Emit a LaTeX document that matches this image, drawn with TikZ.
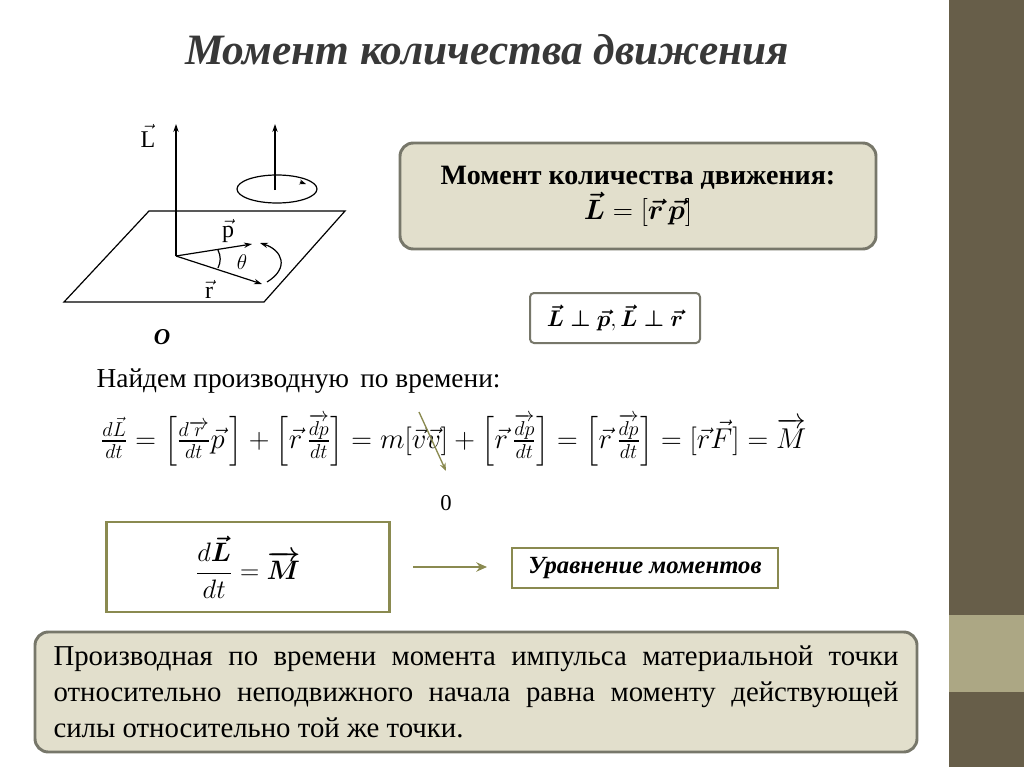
\documentclass[tikz,border=0pt]{standalone}
\usepackage{fix-cm}
\usepackage{amsmath,bm}
\usepackage{fontspec}
\setmainfont{Liberation Serif}
\usetikzlibrary{arrows.meta}
\definecolor{olive}{HTML}{8A8A50}
\definecolor{bandd}{HTML}{675E49}
\definecolor{bandl}{HTML}{ACA784}
\definecolor{boxfill}{HTML}{E2DFCC}
\definecolor{boxline}{HTML}{77776A}
\tikzset{
  roundbox/.style={draw=boxline,line width=2.2pt,rounded corners=10pt,fill=boxfill},
  olivebox/.style={draw=olive,line width=2.2pt,fill=white},
  thin/.style={line width=0.9pt},
  vec/.style={thin,-{Stealth[length=6pt,width=4pt]}},
}
\begin{document}
\begin{tikzpicture}[x=0.75pt,y=-0.75pt]
\useasboundingbox (0,0) rectangle (1024,767);
\fill[white] (0,0) rectangle (1024,767);
\fill[bandd] (949,0) rectangle (1024,767);
\fill[bandl] (949,615) rectangle (1024,692);
% title
\node[font=\fontsize{32.5}{36}\selectfont\bfseries\itshape,text=black!78] (title) at (487,50) {Момент количества движения};
% diagram
\coordinate (O) at (176,256);
\draw[thin] (64,302) -- (149,211) -- (345,211) -- (264,302) -- cycle;
\draw[vec] (O) -- (176,124) coordinate (Ltop);
\node[font=\fontsize{18}{18}\selectfont] (Llab) at (148,136) {$\vec{\mathrm{L}}$};
\draw[vec] (O) -- (252,244) coordinate (pend);
\draw[vec] (O) -- (262,284) coordinate (rend);
\node[font=\fontsize{18}{18}\selectfont] (plab) at (228,231) {$\vec{\mathrm{p}}$};
\node[font=\fontsize{18}{18}\selectfont] (rlab) at (209,289) {$\vec{\mathrm{r}}$};
\node[font=\fontsize{16}{16}\selectfont] (th) at (242,262) {$\theta$};
\draw[thin] (218,250) to[bend left=25] (218,268);
\draw[vec] (267,282) .. controls (290,268) and (282,250) .. (260,243);
\draw[thin] (277,189) ellipse (40 and 14);
\draw[vec] (275,190) -- (275,124);
\draw[thin,-{Stealth[length=5pt]}] (300,182) -- (306,184);
\node[font=\fontsize{17}{17}\selectfont\bfseries\itshape] (Olab) at (162,337) {O};
% top box
\node[roundbox,minimum width=476*0.75pt,minimum height=106*0.75pt,align=center,font=\fontsize{21}{26}\selectfont\bfseries] (mom) at (638,196)
  {Момент количества движения:\\ $\bm{\vec{L}} = [\bm{\vec{r}}\,\bm{\vec{p}}]$};
\node[draw=boxline,line width=1.5pt,rounded corners=3pt,fill=white,minimum width=170*0.75pt,minimum height=50*0.75pt,font=\fontsize{17}{20}\selectfont] (perp) at (615,318)
  {$\bm{\vec{L}\perp\vec{p}},\bm{\vec{L}\perp\vec{r}}$};
% derivative
\node[font=\fontsize{20.5}{24}\selectfont,anchor=west] (find) at (92,381) {Найдем производную\, по времени:};
\node[font=\fontsize{21.5}{26}\selectfont,anchor=west] (eq) at (96,440)
 {$\frac{d\vec{L}}{dt}=\left[\frac{d\overrightarrow{r}}{dt}\vec{p}\,\right]+\left[\vec{r}\,\frac{\overrightarrow{dp}}{dt}\right]=m[\vec{v}\vec{v}]+\left[\vec{r}\,\frac{\overrightarrow{dp}}{dt}\right]=\left[\vec{r}\,\frac{\overrightarrow{dp}}{dt}\right]=[\vec{r}\vec{F}]=\overrightarrow{M}$};
\node[font=\fontsize{17}{17}\selectfont] (zero) at (446,503) {0};
\coordinate (slashA) at (419,412);
\coordinate (slashB) at (446,471);
\draw[olive,line width=1pt,-{Stealth[length=6pt]}] (slashA) -- (slashB);
% lower boxes
\node[olivebox,minimum width=283*0.75pt,minimum height=90*0.75pt,font=\fontsize{20}{24}\selectfont] (dl) at (248,567)
  {$\dfrac{d\bm{\vec{L}}}{dt}=\bm{\overrightarrow{M}}$};
\node[olivebox,minimum width=266*0.75pt,minimum height=40*0.75pt,font=\fontsize{18.5}{20}\selectfont\bfseries\itshape] (ur) at (645,568) {Уравнение моментов};
\draw[olive,line width=2.2pt,-{Stealth[length=8pt,width=7pt]}] (413,567) -- (487,567);
% bottom box
\node[roundbox,minimum width=882*0.75pt,minimum height=120*0.75pt] (bot) at (476,692) {};
\node[text width=845*0.75pt,align=justify,font=\fontsize{21.6}{27}\selectfont] (bott) at (bot.center)
  {Производная по времени момента импульса материальной точки относительно неподвижного начала равна моменту действующей силы относительно той же точки.};
\end{tikzpicture}
\end{document}
